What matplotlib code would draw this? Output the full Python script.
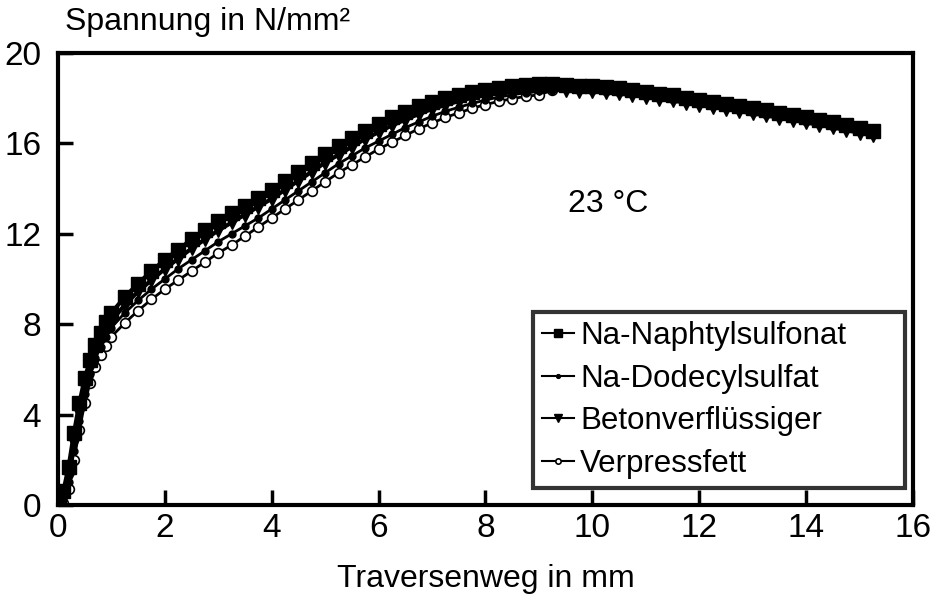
import matplotlib
matplotlib.use('Agg')
import matplotlib.pyplot as plt

plt.rcParams['font.family'] = ['Liberation Sans', 'DejaVu Sans']

# Traversenweg in mm (gemeinsam fuer alle Messreihen)
weg = [0.0, 0.1, 0.2, 0.3, 0.4, 0.5, 0.6, 0.7, 0.8, 0.9, 1.0,
       1.25, 1.5, 1.75, 2.0, 2.25, 2.5, 2.75, 3.0, 3.25, 3.5, 3.75, 4.0,
       4.25, 4.5, 4.75, 5.0, 5.25, 5.5, 5.75, 6.0, 6.25, 6.5, 6.75, 7.0,
       7.25, 7.5, 7.75, 8.0, 8.25, 8.5, 8.75, 9.0, 9.25, 9.5, 9.75, 10.0,
       10.25, 10.5, 10.75, 11.0, 11.25, 11.5, 11.75, 12.0, 12.25, 12.5, 12.75, 13.0,
       13.25, 13.5, 13.75, 14.0, 14.25, 14.5, 14.75, 15.0, 15.25]

# Spannung in N/mm²
naphtyl = [0.0, 0.6, 1.7, 3.2, 4.5, 5.6, 6.4, 7.1, 7.6, 8.1, 8.5,
           9.2, 9.8, 10.35, 10.85, 11.3, 11.75, 12.15, 12.55, 12.9, 13.25, 13.6, 13.95,
           14.35, 14.75, 15.15, 15.55, 15.9, 16.25, 16.55, 16.85, 17.15, 17.4, 17.65, 17.85,
           18.0, 18.15, 18.28, 18.38, 18.47, 18.54, 18.59, 18.62, 18.62, 18.6, 18.56, 18.52,
           18.48, 18.43, 18.36, 18.28, 18.2, 18.12, 18.02, 17.92, 17.83, 17.74, 17.65, 17.55,
           17.46, 17.36, 17.26, 17.15, 17.04, 16.93, 16.81, 16.69, 16.57]
dodecyl = [0.0, 0.2, 1.0, 2.4, 3.7, 4.9, 5.8, 6.5, 7.0, 7.45, 7.85,
           8.5, 9.05, 9.55, 10.0, 10.45, 10.85, 11.25, 11.65, 12.0, 12.35, 12.7, 13.1,
           13.5, 13.9, 14.3, 14.7, 15.1, 15.45, 15.8, 16.1, 16.4, 16.7, 16.95, 17.2,
           17.42, 17.6, 17.77, 17.92, 18.05, 18.15, 18.24, 18.3, 18.38, 18.45, 18.41, 18.37,
           18.33, 18.28, 18.21, 18.13, 18.05, 17.97, 17.87, 17.77, 17.68, 17.59, 17.5, 17.4,
           17.31, 17.21, 17.11, 17.0, 16.89, 16.78, 16.66, 16.54, 16.42]
beton = [0.0, 0.3, 1.3, 2.8, 4.1, 5.2, 6.1, 6.8, 7.3, 7.75, 8.15,
         8.85, 9.45, 9.95, 10.45, 10.9, 11.35, 11.75, 12.15, 12.5, 12.85, 13.2, 13.55,
         13.95, 14.35, 14.75, 15.15, 15.5, 15.85, 16.2, 16.5, 16.8, 17.05, 17.3, 17.52,
         17.7, 17.87, 18.02, 18.15, 18.26, 18.35, 18.42, 18.47, 18.44, 18.38, 18.34, 18.3,
         18.26, 18.21, 18.14, 18.06, 17.98, 17.9, 17.8, 17.7, 17.61, 17.52, 17.43, 17.33,
         17.24, 17.14, 17.04, 16.93, 16.82, 16.71, 16.59, 16.47, 16.35]
verpress = [0.0, 0.1, 0.7, 2.0, 3.3, 4.5, 5.4, 6.1, 6.65, 7.05, 7.45,
            8.05, 8.6, 9.1, 9.55, 9.95, 10.35, 10.75, 11.15, 11.5, 11.9, 12.3, 12.7,
            13.1, 13.5, 13.9, 14.3, 14.7, 15.05, 15.4, 15.75, 16.05, 16.35, 16.65, 16.9,
            17.15, 17.35, 17.55, 17.72, 17.86, 17.98, 18.08, 18.15, 18.35, 18.5, 18.46, 18.42,
            18.38, 18.33, 18.26, 18.18, 18.1, 18.02, 17.92, 17.82, 17.73, 17.64, 17.55, 17.45,
            17.36, 17.26, 17.16, 17.05, 16.94, 16.83, 16.71, 16.59, 16.47]

fig = plt.figure(figsize=(9.32, 5.99), dpi=100)
ax = fig.add_axes([0.0622, 0.157, 0.9174, 0.7545])

ax.plot(weg, naphtyl, color='black', lw=3, marker='s', ms=9.5, mfc='black',
        mec='black', label='Na-Naphtylsulfonat', zorder=5)
ax.plot(weg, dodecyl, color='black', lw=2, marker='o', ms=5, mfc='black',
        mec='black', label='Na-Dodecylsulfat', zorder=3)
ax.plot(weg, beton, color='black', lw=3, marker='v', ms=10, mfc='black',
        mec='black', label='Betonverflüssiger', zorder=4)
ax.plot(weg, verpress, color='black', lw=2, marker='o', ms=7, mfc='white',
        mec='black', mew=1.2, label='Verpressfett', zorder=2)

ax.set_xlim(0, 16)
ax.set_ylim(0, 20)
ax.set_xticks(range(0, 17, 2))
ax.set_yticks(range(0, 21, 4))
ax.tick_params(direction='in', length=11, width=2.5, labelsize=24)
ax.tick_params(axis='x', pad=6)
ax.tick_params(axis='y', pad=12)
for s in ax.spines.values():
    s.set_linewidth(3)

ax.set_xlabel('Traversenweg in mm', fontsize=23, labelpad=14)
fig.text(0.07, 0.95, 'Spannung in N/mm²', fontsize=23, ha='left', va='baseline')
ax.text(10.3, 13.3, '23 °C', fontsize=23, ha='center', va='center')

# Legendenrahmen breiter als der Text (mode='expand')
leg = ax.legend(loc='lower left', bbox_to_anchor=(0.5556, 0.037, 0.435, 0.3),
                mode='expand', borderaxespad=0, fontsize=22.5, frameon=True,
                fancybox=False, handlelength=1.0, handletextpad=0.2,
                labelspacing=0.4, borderpad=0.3, markerscale=0.55)
leg.get_frame().set_edgecolor('black')
leg.get_frame().set_linewidth(3)
for line in leg.get_lines():
    line.set_linewidth(1.5)

fig.savefig('out.png', dpi=100)
